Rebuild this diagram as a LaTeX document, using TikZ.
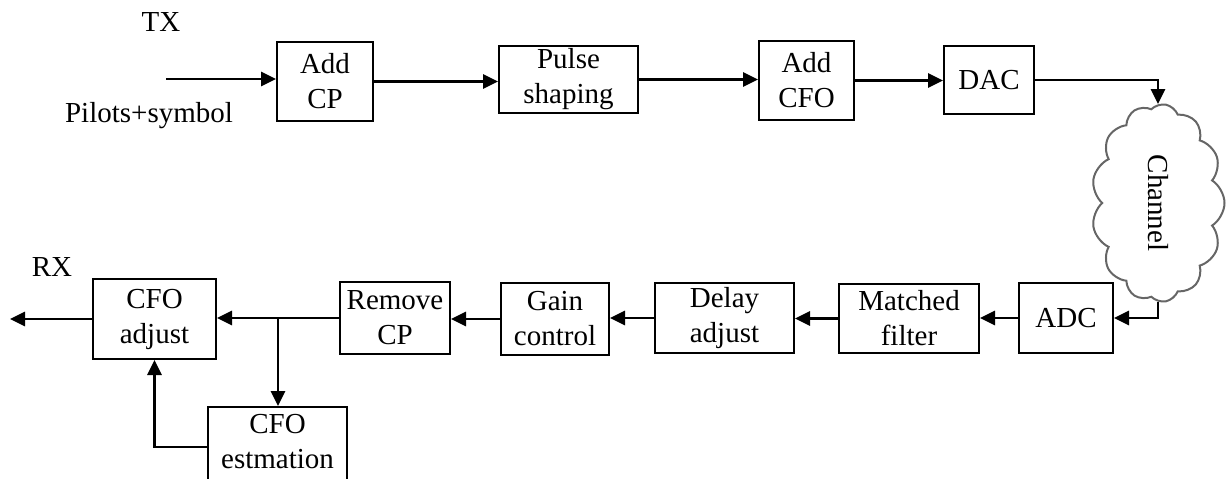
\documentclass[tikz,border=0pt]{standalone}
\usepackage{fontspec}
\setmainfont{Liberation Serif}
\usetikzlibrary{arrows.meta,shapes.symbols}
\begin{document}
\begin{tikzpicture}[x=1pt,y=-1pt,
  every node/.style={font=\fontsize{29}{35}\selectfont},
  blk/.style={draw,line width=2pt,inner sep=0pt,align=center},
  flow/.style={line width=2.8pt,-{Triangle[length=15pt,width=14pt]}}]
\useasboundingbox (0,0) rectangle (1231,479);

% transmitter chain
\node[blk,minimum width=96pt,minimum height=79pt]  (addcp)  at (325,81.5)  {Add\\CP};
\node[blk,minimum width=139pt,minimum height=67pt] (pulse)  at (568.5,79.5) {Pulse\\shaping};
\node[blk,minimum width=95pt,minimum height=79pt]  (addcfo) at (806.5,80.5) {Add\\CFO};
\node[blk,minimum width=90pt,minimum height=68pt]  (dac)    at (989,80)    {DAC};

% channel
\node[cloud,cloud puffs=13,cloud puff arc=115,cloud ignores aspect,
      draw=black!60,line width=2pt,rotate=-90,inner sep=0pt,
      minimum width=198pt,minimum height=133pt] (chan) at (1158,203) {Channel};

% receiver chain
\node[blk,minimum width=94pt,minimum height=70pt]  (adc)     at (1066,318)   {ADC};
\node[blk,minimum width=140pt,minimum height=69pt] (matched) at (909,318.5)  {Matched\\filter};
\node[blk,minimum width=139pt,minimum height=70pt] (delay)   at (724.5,318)  {Delay\\adjust};
\node[blk,minimum width=108pt,minimum height=72pt] (gain)    at (555,319)    {Gain\\control};
\node[blk,minimum width=110pt,minimum height=72pt] (remove)  at (395,318)    {Remove\\CP};
\node[blk,minimum width=123pt,minimum height=80pt] (cfoadj)  at (154.5,319)  {CFO\\adjust};
\node[blk,minimum width=139pt,minimum height=80pt] (cfoest)  at (277.5,447)  {};
\node[align=center,inner sep=0pt] (cfoesttext) at (277.5,442) {CFO\\estmation};

% labels
\node (tx) at (161,22) {TX};
\node (pil) at (149,116) {Pilots+symbol};
\node (rx) at (52,267) {RX};

% free ends
\coordinate (in) at (166,79);
\coordinate (out) at (10,319);
\coordinate (split) at (278,319);

% connectors
\draw[flow] (in) -- (in -| addcp.west);
\draw[flow] (addcp.east) -- (addcp.east -| pulse.west);
\draw[flow] (pulse.east) -- (pulse.east -| addcfo.west);
\draw[flow] (addcfo.east) -- (addcfo.east -| dac.west);
\draw[flow] (dac.east) -| (chan.west);
\draw[flow] (chan.east) |- (adc.east);
\draw[flow] (adc.west) -- (adc.west -| matched.east);
\draw[flow] (matched.west) -- (matched.west -| delay.east);
\draw[flow] (delay.west) -- (delay.west -| gain.east);
\draw[flow] (gain.west) -- (gain.west -| remove.east);
\draw[flow] (remove.west) -- (remove.west -| cfoadj.east);
\draw[flow] (split) -- (split |- cfoest.north);
\draw[flow] (cfoest.west) -| (cfoadj.south);
\draw[flow] (cfoadj.west) -- (out);
\end{tikzpicture}
\end{document}
